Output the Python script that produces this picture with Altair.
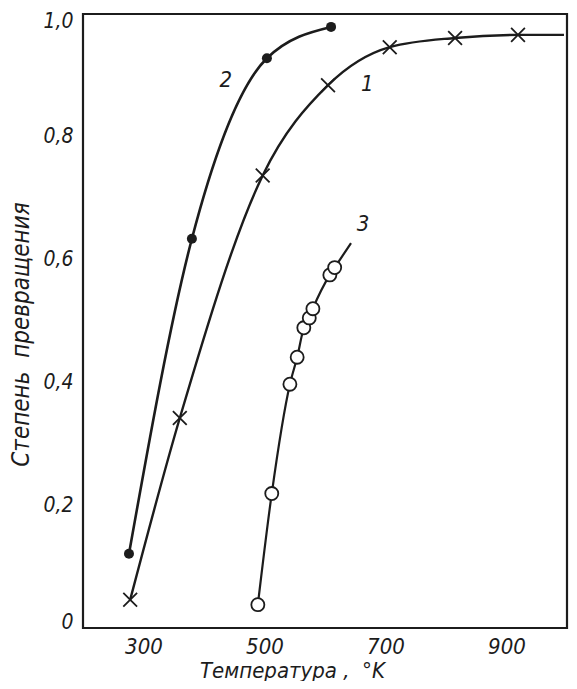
import altair as alt
import pandas as pd

# Curve 1 (crosses)
c1_x = [278, 360, 497, 605, 707, 815, 919]
c1_y = [0.046, 0.342, 0.737, 0.884, 0.946, 0.961, 0.966]
c1_tail_x = [995]
c1_tail_y = [0.966]

# Curve 2 (filled dots)
c2_x = [276, 380, 504, 610]
c2_y = [0.121, 0.634, 0.928, 0.979]

# Curve 3 (open circles)
c3_x = [489, 512, 542, 554, 565, 574, 580, 608, 616]
c3_y = [0.038, 0.219, 0.397, 0.441, 0.489, 0.505, 0.520, 0.575, 0.587]
c3_tail_x = [643]
c3_tail_y = [0.627]

# Curve labels
lab_text = ["1", "2", "3"]
lab_x = [670, 436, 663]
lab_y = [0.886, 0.893, 0.658]

x_ticks = [300, 500, 700, 900]
y_ticks = [0, 0.2, 0.4, 0.6, 0.8, 1.0]

FONT = "DejaVu Sans Condensed"
INK = "#1c1c1c"

xs = alt.Scale(domain=[200, 1000], nice=False, zero=False)
ys = alt.Scale(domain=[0, 1.0], nice=False)

x_axis = alt.Axis(values=x_ticks, ticks=False, domain=False, grid=False,
                  labelFont=FONT, labelFontStyle="italic", labelFontSize=22,
                  labelColor=INK, labelPadding=8,
                  title="Температура ,\u00a0\u00a0°K", titleFont=FONT, titleFontStyle="italic",
                  titleFontWeight="normal", titleFontSize=22, titleColor=INK,
                  titleX=209, titleY=42, titleBaseline="middle", titleAlign="center")
y_axis = alt.Axis(values=y_ticks, ticks=False, domain=False, grid=False,
                  labelExpr="datum.value == 0 ? '0' : replace(format(datum.value, '.1f'), '.', ',')",
                  labelFont=FONT, labelFontStyle="italic", labelFontSize=21,
                  labelColor=INK, labelPadding=10, labelFlush=True, labelFlushOffset=4,
                  title="Степень\u00a0\u00a0превращения", titleFont=FONT, titleFontStyle="italic",
                  titleFontWeight="normal", titleFontSize=24, titleColor=INK,
                  titleX=-62, titleY=320, titleBaseline="middle", titleAlign="center",
                  titleAngle=-90)

d1 = pd.DataFrame({"x": c1_x, "y": c1_y})
d1_line = pd.DataFrame({"x": c1_x + c1_tail_x, "y": c1_y + c1_tail_y})
d2 = pd.DataFrame({"x": c2_x, "y": c2_y})
d3 = pd.DataFrame({"x": c3_x, "y": c3_y})
d3_line = pd.DataFrame({"x": c3_x + c3_tail_x, "y": c3_y + c3_tail_y})
dl = pd.DataFrame({"t": lab_text, "x": lab_x, "y": lab_y})

X = alt.X("x:Q", scale=xs, axis=x_axis)
Y = alt.Y("y:Q", scale=ys, axis=y_axis)

line1 = alt.Chart(d1_line).mark_line(color=INK, strokeWidth=2.4, interpolate="monotone").encode(x=X, y=Y)
line2 = alt.Chart(d2).mark_line(color=INK, strokeWidth=2.6, interpolate="monotone").encode(x=X, y=Y)
line3 = alt.Chart(d3_line).mark_line(color=INK, strokeWidth=2.2, interpolate="monotone").encode(x=X, y=Y)

pts1 = alt.Chart(d1).mark_point(shape="M-1,-1L1,1M-1,1L1,-1", size=190, filled=False,
                                color=INK, strokeWidth=1.8, opacity=1).encode(x=X, y=Y)
pts2 = alt.Chart(d2).mark_point(shape="circle", size=100, filled=True,
                                color=INK, opacity=1).encode(x=X, y=Y)
pts3 = alt.Chart(d3).mark_point(shape="circle", size=170, filled=True, fill="white",
                                stroke=INK, strokeWidth=1.8, opacity=1).encode(x=X, y=Y)

labels = alt.Chart(dl).mark_text(font=FONT, fontStyle="italic", fontSize=22, color=INK).encode(
    x=X, y=Y, text="t:N")

chart = alt.layer(line1, line2, line3, pts1, pts2, pts3, labels).properties(
    width=484, height=614,
    autosize=alt.AutoSizeParams(type="none"),
    padding={"left": 75, "top": 6, "right": 2, "bottom": 53},
    background="white",
).configure_view(stroke=INK, strokeWidth=2.2)

chart.save("out.html", embed_options={"renderer": "svg", "actions": False})
